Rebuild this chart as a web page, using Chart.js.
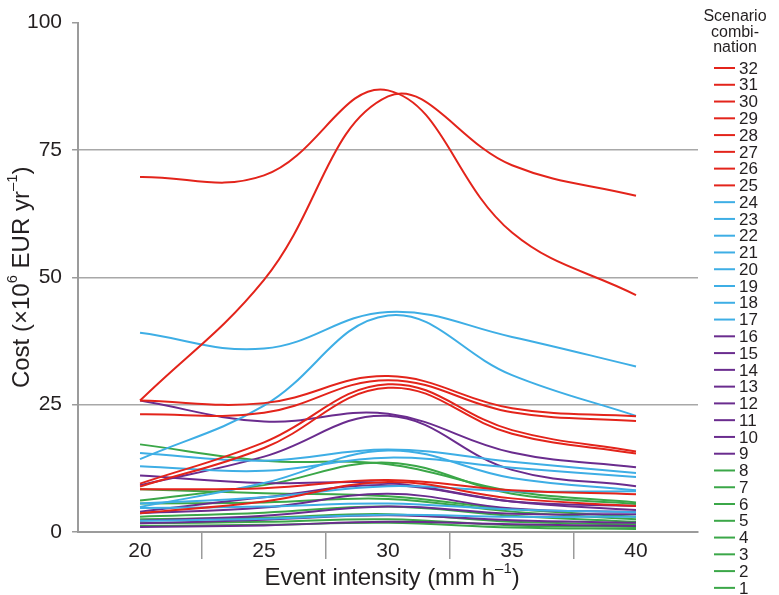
<!DOCTYPE html>
<html>
<head>
<meta charset="utf-8">
<script src="https://cdn.jsdelivr.net/npm/chart.js@4.4.0/dist/chart.umd.min.js"></script>
<style>
  html, body { margin: 0; padding: 0; background: #fff; }
  #wrap { width: 779px; height: 595px; }
</style>
</head>
<body>
<div id="wrap"><canvas id="costChart" width="779" height="595"></canvas></div>
<script>
// event intensity categories (mm/h)
var intensities = ['20', '25', '30', '35', '40'];
var yTickValues = [0, 25, 50, 75, 100];

// cost, 10^6 EUR/yr, one row per scenario combination
// red: combinations 32 .. 25
var redValues = [
    [69.7, 70.0, 86.7, 58.8, 46.5],
    [25.8, 49.5, 85.5, 72.0, 66.0],
    [25.8, 25.3, 30.6, 24.3, 22.7],
    [23.1, 23.4, 29.8, 23.5, 21.8],
    [9.5, 17.6, 29.0, 20.0, 15.8],
    [8.9, 16.5, 28.3, 19.3, 15.4],
    [8.4, 8.6, 10.2, 8.2, 7.4],
    [3.7, 6.0, 9.8, 6.6, 5.1]
];
// blue: combinations 24 .. 17
var blueValues = [
    [39.1, 36.0, 43.2, 38.3, 32.5],
    [14.3, 24.8, 42.5, 30.8, 22.8],
    [15.5, 14.0, 16.2, 13.8, 11.6],
    [12.9, 12.0, 14.6, 12.6, 10.8],
    [4.9, 9.6, 16.0, 10.6, 8.2],
    [5.6, 6.8, 9.0, 8.0, 8.0],
    [4.7, 5.0, 5.6, 4.4, 3.9],
    [2.2, 2.6, 3.4, 3.0, 3.0]
];
// purple: combinations 16 .. 9
var purpleValues = [
    [25.8, 21.7, 23.2, 15.6, 12.7],
    [9.2, 14.8, 22.8, 12.2, 9.0],
    [11.1, 9.6, 9.6, 6.0, 4.3],
    [4.0, 6.8, 9.2, 6.0, 5.1],
    [3.7, 4.8, 7.5, 4.6, 3.9],
    [1.7, 2.4, 3.3, 2.3, 1.8],
    [2.2, 3.2, 5.0, 3.6, 3.5],
    [1.0, 1.3, 2.0, 1.5, 1.2]
];
// green: combinations 8 .. 1
var greenValues = [
    [17.2, 14.0, 13.3, 8.0, 5.8],
    [6.2, 9.2, 13.6, 7.5, 5.5],
    [8.4, 7.6, 7.0, 4.5, 3.0],
    [5.6, 5.8, 6.5, 4.0, 2.5],
    [3.0, 3.8, 5.0, 3.2, 2.0],
    [2.5, 2.8, 3.5, 2.0, 1.5],
    [1.7, 2.0, 2.5, 1.3, 1.0],
    [1.2, 1.4, 1.8, 0.9, 0.6]
];

var RED = '#e3241b', BLUE = '#3eaee5', PURPLE = '#6a2c8e', GREEN = '#3ba748';
var FONT = '"Liberation Sans", Arial, Helvetica, sans-serif';
var TEXT = '#231f20';
var AXIS = '#9b9b9b';

var groups = [
    { values: redValues, color: RED, first: 32 },
    { values: blueValues, color: BLUE, first: 24 },
    { values: purpleValues, color: PURPLE, first: 16 },
    { values: greenValues, color: GREEN, first: 8 }
];

var datasets = [];
groups.forEach(function (g) {
    g.values.forEach(function (row, i) {
        datasets.push({
            label: String(g.first - i),
            data: row,
            borderColor: g.color,
            backgroundColor: g.color,
            borderWidth: 2,
            pointRadius: 0,
            fill: false,
            tension: 0.4
        });
    });
});

// draws a string made of normal and superscript pieces, centred on (0,0)
function drawRuns(ctx, runs, size) {
    var total = 0;
    runs.forEach(function (r) {
        ctx.font = (r.sup ? size * 0.62 : size) + 'px ' + FONT;
        r.w = ctx.measureText(r.t).width;
        total += r.w;
    });
    var x = -total / 2;
    runs.forEach(function (r) {
        ctx.font = (r.sup ? size * 0.62 : size) + 'px ' + FONT;
        ctx.fillText(r.t, x, r.sup ? -size * 0.38 : 0);
        x += r.w;
    });
}

var extrasPlugin = {
    id: 'extras',
    afterDraw: function (chart) {
        var ctx = chart.ctx;
        var area = chart.chartArea;
        ctx.save();
        ctx.fillStyle = TEXT;
        ctx.textAlign = 'left';
        ctx.textBaseline = 'middle';

        // axis titles
        ctx.save();
        ctx.translate(22, (area.top + area.bottom) / 2);
        ctx.rotate(-Math.PI / 2);
        drawRuns(ctx, [{ t: 'Cost (\u00d710' }, { t: '6', sup: true }, { t: ' EUR yr' }, { t: '\u20131', sup: true }, { t: ')' }], 24);
        ctx.restore();

        ctx.save();
        ctx.translate((area.left + area.right) / 2 + 4, 578);
        drawRuns(ctx, [{ t: 'Event intensity (mm h' }, { t: '\u20131', sup: true }, { t: ')' }], 24);
        ctx.restore();

        // legend
        var lx = area.right + 16;
        ctx.textAlign = 'center';
        ctx.font = '16px ' + FONT;
        ['Scenario', 'combi-', 'nation'].forEach(function (s, i) {
            ctx.fillText(s, lx + 21, 17 + i * 15.5);
        });
        ctx.textAlign = 'left';
        ctx.font = '17px ' + FONT;
        chart.data.datasets.forEach(function (ds, i) {
            var y = 68 + i * 16.77;
            ctx.strokeStyle = ds.borderColor;
            ctx.lineWidth = 2;
            ctx.beginPath();
            ctx.moveTo(lx, y);
            ctx.lineTo(lx + 21, y);
            ctx.stroke();
            ctx.fillText(ds.label, lx + 25, y + 1);
        });
        ctx.restore();
    }
};

function xTickColor(c) {
    if (c.type !== 'tick' || c.index === 0) return 'rgba(0,0,0,0)';
    return AXIS;
}

var ctx = document.getElementById('costChart').getContext('2d');
var costChart = new Chart(ctx, {
    type: 'line',
    data: { labels: intensities, datasets: datasets },
    plugins: [extrasPlugin],
    options: {
        responsive: false,
        animation: false,
        layout: { padding: { left: 17, right: 81, top: 14, bottom: 18 } },
        plugins: {
            legend: { display: false },
            tooltip: { enabled: false }
        },
        scales: {
            x: {
                offset: true,
                afterFit: function (scale) { scale.height = 45; },
                grid: {
                    offset: true,
                    drawOnChartArea: false,
                    tickLength: 27,
                    lineWidth: 1.5,
                    color: xTickColor,
                    tickColor: xTickColor
                },
                border: { color: AXIS, width: 2 },
                ticks: {
                    color: TEXT,
                    font: { family: FONT, size: 21 },
                    padding: -20,
                    maxRotation: 0,
                    minRotation: 0,
                    autoSkip: false
                }
            },
            y: {
                min: 0,
                max: 100,
                afterBuildTicks: function (axis) {
                    axis.ticks = yTickValues.map(function (v) { return { value: v }; });
                },
                grid: {
                    tickLength: 6,
                    lineWidth: 1.5,
                    tickColor: AXIS,
                    color: function (c) { return c.tick && c.tick.value === 100 ? 'rgba(0,0,0,0)' : '#a8a8a8'; }
                },
                border: { color: AXIS, width: 2 },
                ticks: { color: TEXT, font: { family: FONT, size: 21 }, padding: 10 }
            }
        }
    }
});
</script>
</body>
</html>
